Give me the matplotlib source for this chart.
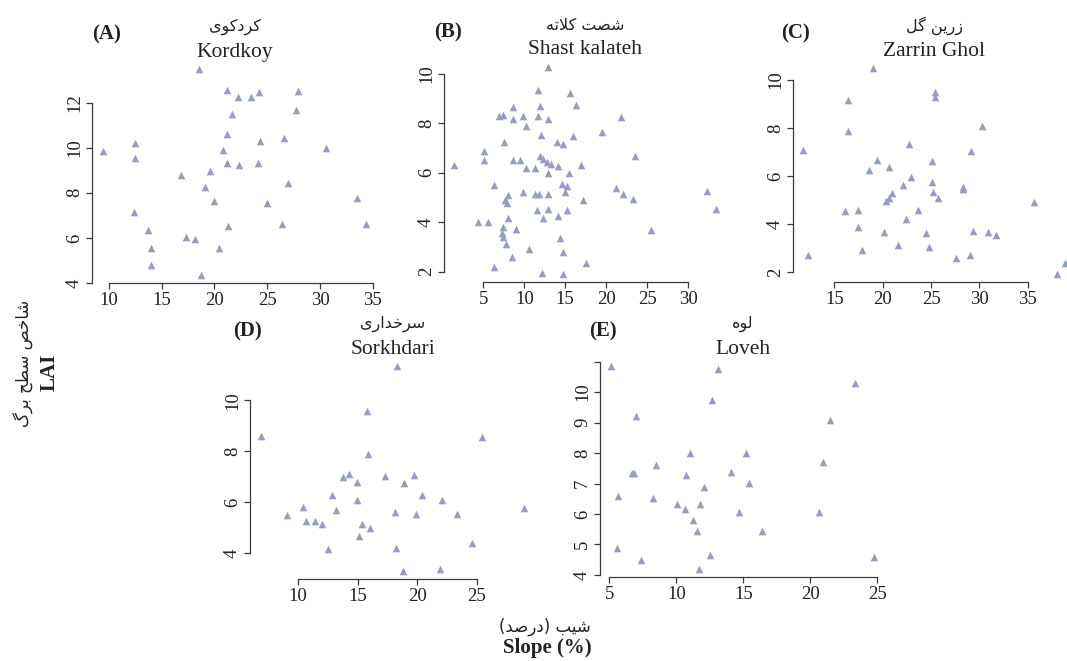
"""
LAI vs slope (%) scatter panels for five sites (A-E), base-R look.
"""
import matplotlib
matplotlib.use("Agg")
import matplotlib.pyplot as plt

W, H = 1067, 661

# ---- data ---------------------------------------------------------------
a_slope = [18.5, 21.2, 22.2, 23.5, 24.2, 27.9, 21.7, 27.7, 21.2, 24.3, 26.6, 30.6,
           9.4, 12.5, 12.5, 20.8, 21.2, 22.3, 24.1, 16.8, 19.6, 19.1, 27.0, 20.0,
           25.0, 12.4, 33.5, 34.4, 13.7, 21.3, 26.4, 14.0, 17.3, 18.2, 20.4, 14.0, 18.7]
a_lai = [13.48, 12.55, 12.27, 12.27, 12.47, 12.50, 11.48, 11.66, 10.59, 10.30, 10.41, 10.0,
         9.85, 10.22, 9.53, 9.90, 9.30, 9.23, 9.33, 8.79, 8.96, 8.27, 8.44, 7.63,
         7.56, 7.14, 7.75, 6.61, 6.33, 6.52, 6.62, 5.56, 6.03, 5.93, 5.53, 4.79, 4.37]

b_slope = [12.93, 11.63, 15.57, 11.91, 16.30, 8.66, 6.95, 7.36, 8.58, 9.88, 11.63, 12.93,
           10.20, 21.79, 12.03, 19.55, 7.56, 13.94, 14.67, 15.98, 5.12, 5.12, 8.58, 9.47,
           11.91, 12.24, 12.72, 13.21, 14.15, 10.20, 11.30, 12.85, 15.49, 16.91, 23.50, 1.46,
           6.34, 9.80, 11.30, 11.83, 12.93, 14.55, 15.16, 14.96, 7.97, 7.64, 7.85, 17.20,
           21.18, 22.07, 23.29, 32.36, 33.37, 11.50, 12.93, 14.15, 12.32, 15.16, 4.39, 5.61,
           8.05, 7.44, 8.98, 7.32, 7.44, 7.72, 14.35, 10.61, 14.76, 8.54, 17.52, 25.53,
           6.30, 12.11, 14.76]
b_lai = [10.26, 9.33, 9.22, 8.71, 8.75, 8.65, 8.28, 8.34, 8.17, 8.28, 8.28, 8.17,
         7.90, 8.25, 7.53, 7.63, 7.22, 7.22, 7.17, 7.47, 6.86, 6.49, 6.49, 6.49,
         6.68, 6.55, 6.41, 6.35, 6.25, 6.18, 6.18, 5.98, 5.98, 6.32, 6.66, 6.32,
         5.51, 5.20, 5.14, 5.14, 5.14, 5.55, 5.47, 5.20, 5.10, 4.90, 4.77, 4.90,
         5.37, 5.14, 4.93, 5.24, 4.52, 4.47, 4.52, 4.25, 4.16, 4.47, 4.02, 4.02,
         4.16, 3.82, 3.71, 3.55, 3.39, 3.12, 3.35, 2.90, 2.77, 2.57, 2.34, 3.69,
         2.18, 1.96, 1.91]

c_slope = [18.97, 25.45, 25.45, 16.45, 16.45, 30.28, 11.79, 22.76, 29.14, 19.41, 18.62,
           20.59, 25.07, 22.93, 22.14, 25.07, 20.97, 20.69, 20.34, 25.17, 25.69, 28.28,
           28.30, 35.69, 16.14, 17.41, 23.62, 22.41, 17.41, 20.17, 24.48, 29.31, 30.86,
           31.66, 17.86, 21.62, 24.76, 12.31, 27.52, 29.07, 38.0, 38.8]
c_lai = [10.49, 9.51, 9.30, 9.16, 7.87, 8.07, 7.09, 7.31, 7.03, 6.67, 6.25,
         6.36, 6.64, 5.94, 5.64, 5.73, 5.27, 5.10, 4.97, 5.31, 5.10, 5.45,
         5.55, 4.90, 4.52, 4.57, 4.57, 4.22, 3.85, 3.68, 3.64, 3.71, 3.68,
         3.52, 2.90, 3.12, 3.03, 2.70, 2.56, 2.70, 1.92, 2.38]

d_slope = [18.27, 15.80, 6.86, 25.48, 15.89, 13.78, 14.29, 14.99, 17.29, 19.76, 18.89,
           12.89, 14.99, 20.43, 22.11, 13.22, 10.42, 9.07, 10.64, 11.40, 12.05, 18.13,
           19.87, 23.37, 29.0, 15.41, 16.03, 15.10, 24.63, 12.52, 18.21, 18.77, 21.92]
d_lai = [11.33, 9.58, 8.59, 8.54, 7.91, 7.00, 7.10, 6.80, 7.04, 7.09, 6.76,
         6.28, 6.11, 6.28, 6.09, 5.72, 5.83, 5.50, 5.26, 5.26, 5.17, 5.63,
         5.53, 5.53, 5.76, 5.15, 4.98, 4.68, 4.39, 4.16, 4.20, 3.32, 3.41]

e_slope = [5.08, 13.13, 23.38, 12.63, 6.95, 21.45, 11.05, 15.20, 20.95, 8.50, 6.70,
           6.80, 10.75, 14.08, 12.05, 15.43, 5.63, 8.25, 10.05, 10.63, 11.75, 14.68,
           20.63, 11.25, 11.55, 16.43, 5.55, 7.38, 12.50, 11.70, 24.80]
e_lai = [10.85, 10.74, 10.30, 9.74, 9.23, 9.07, 8.01, 8.01, 7.69, 7.60, 7.36,
         7.33, 7.27, 7.38, 6.90, 7.01, 6.60, 6.52, 6.34, 6.18, 6.32, 6.07,
         6.07, 5.80, 5.43, 5.43, 4.87, 4.50, 4.65, 4.20, 4.58]

tags = ["(A)", "(B)", "(C)", "(D)", "(E)"]
names_en = ["Kordkoy", "Shast kalateh", "Zarrin Ghol", "Sorkhdari", "Loveh"]
names_fa = ["کردکوی", "شصت کلاته", "زرین گل", "سرخداری", "لوه"]
x_ticks = [[10, 15, 20, 25, 30, 35], [5, 10, 15, 20, 25, 30], [15, 20, 25, 30, 35],
           [10, 15, 20, 25], [5, 10, 15, 20, 25]]
y_ticks = [[4, 6, 8, 10, 12], [2, 4, 6, 8, 10], [2, 4, 6, 8, 10],
           [4, 6, 8, 10], [4, 5, 6, 7, 8, 9, 10, 11]]
y_labels = [None, None, None, None, ["4", "5", "6", "7", "8", "9", "10", ""]]
ylab_fa = "شاخص سطح برگ"
xlab_fa = "شیب (درصد)"

# ---- crude Persian shaping (no bidi/reshaper available) -----------------
DUAL = {  # isolated, final, initial, medial
    "ب": "\uFE8F\uFE90\uFE91\uFE92", "ت": "\uFE95\uFE96\uFE97\uFE98",
    "ح": "\uFEA1\uFEA2\uFEA3\uFEA4", "خ": "\uFEA5\uFEA6\uFEA7\uFEA8",
    "س": "\uFEB1\uFEB2\uFEB3\uFEB4", "ش": "\uFEB5\uFEB6\uFEB7\uFEB8",
    "ص": "\uFEB9\uFEBA\uFEBB\uFEBC", "ط": "\uFEC1\uFEC2\uFEC3\uFEC4",
    "ل": "\uFEDD\uFEDE\uFEDF\uFEE0", "ن": "\uFEE5\uFEE6\uFEE7\uFEE8",
    "ه": "\uFEE9\uFEEA\uFEEB\uFEEC", "ک": "\uFB8E\uFB8F\uFB90\uFB91",
    "گ": "\uFB92\uFB93\uFB94\uFB95", "ی": "\uFBFC\uFBFD\uFBFE\uFBFF",
}
RIGHT = {"ا": "\uFE8D\uFE8E", "د": "\uFEA9\uFEAA", "ر": "\uFEAD\uFEAE",
         "ز": "\uFEAF\uFEB0", "و": "\uFEED\uFEEE"}


def fa(text):
    out, n, i = [], len(text), 0
    while i < n:
        c = text[i]
        if c not in DUAL and c not in RIGHT:
            out.append(c)
            i += 1
            continue
        link_prev = i > 0 and text[i - 1] in DUAL
        if c == "ل" and i + 1 < n and text[i + 1] == "ا":
            out.append("\uFEFC" if link_prev else "\uFEFB")
            i += 2
            continue
        if c in DUAL:
            link_next = i + 1 < n and (text[i + 1] in DUAL or text[i + 1] in RIGHT)
            f = DUAL[c]
            out.append(f[3] if (link_prev and link_next) else f[1] if link_prev
                       else f[2] if link_next else f[0])
        else:
            out.append(RIGHT[c][1] if link_prev else RIGHT[c][0])
        i += 1
    vis = "".join(reversed(out))
    return vis.translate(str.maketrans("()", ")("))


# ---- figure ---------------------------------------------------------------
SERIF = "Liberation Serif"
PT_COLOR = "#929ec4"
AX_COLOR = "#3a3a3a"

fig = plt.figure(figsize=(W / 100, H / 100), dpi=100)
fig.patch.set_facecolor("white")

# plot regions in pixels: left, top, right, bottom
boxes = [(92, 61, 377, 283), (444, 59, 726, 282), (793, 60, 1075, 282),
         (250, 358, 535, 579), (600, 358, 885, 577)]
series = [(a_slope, a_lai), (b_slope, b_lai), (c_slope, c_lai),
          (d_slope, d_lai), (e_slope, e_lai)]
tag_x = [107, 448, 795, 247, 603]


def pad(v):
    lo, hi = min(v), max(v)
    d = (hi - lo) * 0.04
    return lo - d, hi + d


for k, ((x, y), (l, t, r, b)) in enumerate(zip(series, boxes)):
    ax = fig.add_axes([l / W, 1 - b / H, (r - l) / W, (b - t) / H])
    ax.set_facecolor("none")
    ax.scatter(x, y, marker="^", s=30, color=PT_COLOR, linewidths=0, zorder=3)
    ax.set_xlim(*pad(x))
    ax.set_ylim(*pad(y))

    ax.set_xticks(x_ticks[k])
    ax.set_yticks(y_ticks[k])
    if y_labels[k] is not None:
        ax.set_yticklabels(y_labels[k])
    for s in ("top", "right"):
        ax.spines[s].set_visible(False)
    ax.spines["bottom"].set_bounds(x_ticks[k][0], x_ticks[k][-1])
    ax.spines["left"].set_bounds(y_ticks[k][0], y_ticks[k][-1])
    for s in ("bottom", "left"):
        ax.spines[s].set_color(AX_COLOR)
        ax.spines[s].set_linewidth(0.9)
    ax.tick_params(length=4.5, width=0.9, color=AX_COLOR, pad=2,
                   labelsize=13.5, labelcolor="#222")
    for lab in ax.get_xticklabels() + ax.get_yticklabels():
        lab.set_family(SERIF)
    for lab in ax.get_yticklabels():
        lab.set_rotation(90)
        lab.set_va("center")

    cx = (l + r) / 2
    fig.text(tag_x[k] / W, 1 - (t - 27) / H, tags[k], family=SERIF,
             weight="bold", fontsize=15, ha="center", va="center", color="#222")
    fig.text(cx / W, 1 - (t - 9) / H, names_en[k], family=SERIF, fontsize=15.5,
             ha="center", va="center", color="#222")
    fig.text(cx / W, 1 - (t - 34) / H, fa(names_fa[k]), family="DejaVu Sans",
             fontsize=11.5, ha="center", va="center", color="#222")

# shared axis labels
fig.text(24 / W, 1 - 363 / H, fa(ylab_fa), family="DejaVu Sans", fontsize=12,
         rotation=90, ha="center", va="center", color="#222")
fig.text(50 / W, 1 - 372 / H, "LAI", family=SERIF, weight="bold", fontsize=15,
         rotation=90, ha="center", va="center", color="#222")
fig.text(545 / W, 1 - 627 / H, fa(xlab_fa), family="DejaVu Sans", fontsize=12,
         ha="center", va="center", color="#222")
fig.text(547 / W, 1 - 648 / H, "Slope (%)", family=SERIF, weight="bold",
         fontsize=15, ha="center", va="center", color="#222")

fig.savefig("out.png", dpi=100, facecolor="white")
